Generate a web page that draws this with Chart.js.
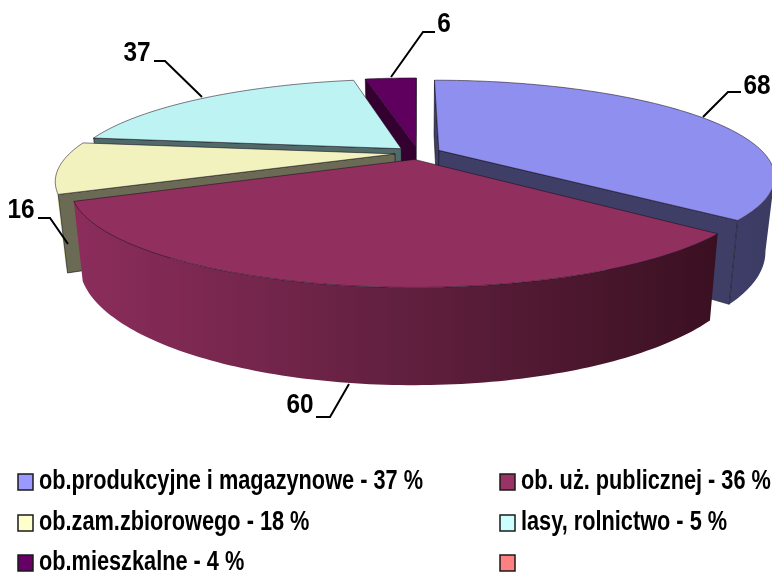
<!DOCTYPE html>
<html><head><meta charset="utf-8">
<style>html,body{margin:0;padding:0;background:#fff}canvas{display:block}</style>
<script src="https://cdn.jsdelivr.net/npm/chart.js@4"></script>
</head><body><canvas id="c" width="772" height="573"></canvas>
<script>
const categories = ["ob.produkcyjne i magazynowe - 37 %","ob. uż. publicznej - 36 %","ob.zam.zbiorowego - 18 %","lasy, rolnictwo - 5 %","ob.mieszkalne - 4 %",""];
const values = [68,60,16,37,6,0];
const valueLabels = ["68","60","16","37","6",""];
const swatchColors = ["#9999FF","#993366","#FFFFCC","#CCFFFF","#660066","#FF8080"];
const topColors = ["#8F8FF0","#912F5F","#F2F2BF","#BDF3F3","#5F005F","#FF8080"];
const radialColors = ["#3E3E66","#3E3E66","#6B6B55","#506A6A","#33002F","#804040"];
const outerStops = [["#3E3E69","#3A3A62"],["#8C2D5C","#62203F","#3A1021"],["#F3F3C2","#F3F3C2"],["#506A6A","#506A6A"],["#33002F","#33002F"],["#804040","#804040"]];
const drawOrder = [4,3,2,0,1];

// perspective of the pie plane
const CX=418, CY=153, A=325, B=90, K=0.265, DEPTH=70, SHRINK=0.974;
const leaders = {
  0:{pts:[[703,117],[728,92],[741,92]],tx:757,ty:86},
  1:{pts:[[349,384],[330,417],[316,417]],tx:300,ty:405},
  2:{pts:[[68,244],[50,218],[38,218]],tx:21,ty:210},
  3:{pts:[[202,97],[165,61],[154,61]],tx:137,ty:53},
  4:{pts:[[391,77],[423,32],[435,32]],tx:444,ty:24}
};
const legendCols=[18,500], legendRows=[482,523,563];
const FONT='bold 28px "Liberation Sans"', LEGEND_SX=0.776, VALUE_SX=0.87;

function proj(u,v){const w=1-K*v;return {x:CX+A*u/w,y:CY+B*v/w,w};}
function low(p){return {x:CX+(p.x-CX)*SHRINK,y:p.y+DEPTH/p.w};}
function poly(ctx,pts){ctx.beginPath();pts.forEach((p,i)=>i?ctx.lineTo(p.x,p.y):ctx.moveTo(p.x,p.y));ctx.closePath();}
function narrowText(ctx,str,x,y,align,sx){
  ctx.save();ctx.font=FONT;ctx.fillStyle='#000';ctx.textBaseline='middle';ctx.textAlign=align||'left';
  ctx.translate(x,y);ctx.scale(sx,1);ctx.fillText(str,0,0);ctx.restore();
}
const pie3d={id:'pie3d',
  beforeDatasetsDraw(chart){
    const ctx=chart.ctx, arcs=chart.getDatasetMeta(0).data;
    ctx.save();ctx.lineJoin='round';
    drawOrder.forEach(i=>{
      const arc=arcs[i]; if(!arc||arc.circumference===0)return;
      const R=arc.outerRadius, mid=(arc.startAngle+arc.endAngle)/2, off=(arc.options.offset||0)/2;
      const ox=Math.cos(mid)*off/R, oy=Math.sin(mid)*off/R;
      const apex=proj(ox,oy), rim=[];
      const n=Math.max(2,Math.ceil(arc.circumference*180/Math.PI));
      for(let s=0;s<=n;s++){const a=arc.startAngle+arc.circumference*s/n;rim.push(proj(Math.cos(a)+ox,Math.sin(a)+oy));}
      // outer wall
      const vis=[];
      for(let s=0;s<n;s++){ if(rim[s+1].x<rim[s].x){ if(!vis.length)vis.push(rim[s]); vis.push(rim[s+1]); } }
      if(vis.length>1){
        const wall=vis.concat(vis.map(low).reverse());
        const xs=wall.map(p=>p.x), g=ctx.createLinearGradient(Math.min(...xs),0,Math.max(...xs),0);
        const stops=outerStops[i]; stops.forEach((c,k)=>g.addColorStop(k/(stops.length-1),c));
        poly(ctx,wall);ctx.fillStyle=g;ctx.fill();
      }
      // radial walls
      const first=rim[0], last=rim[n];
      [[apex,first],[last,apex]].forEach(([p,q])=>{
        if(q.x<p.x){
          poly(ctx,[p,q,low(q),low(p)]);ctx.fillStyle=radialColors[i];ctx.fill();
          ctx.strokeStyle='rgba(10,10,20,.6)';ctx.lineWidth=1;ctx.stroke();
        }
      });
      // top face
      poly(ctx,[apex].concat(rim));ctx.fillStyle=topColors[i];ctx.fill();
      ctx.strokeStyle='rgba(25,15,30,.55)';ctx.lineWidth=1;ctx.stroke();
    });
    ctx.restore();
    return false;
  },
  afterDraw(chart){
    const ctx=chart.ctx;
    ctx.save();ctx.strokeStyle='#000';ctx.lineWidth=2;
    Object.keys(leaders).forEach(k=>{
      const L=leaders[k];ctx.beginPath();
      L.pts.forEach((p,i)=>i?ctx.lineTo(p[0],p[1]):ctx.moveTo(p[0],p[1]));ctx.stroke();
      narrowText(ctx,valueLabels[k],L.tx,L.ty,'center',VALUE_SX);
    });
    ctx.restore();
    categories.forEach((t,i)=>{
      const x=legendCols[i%2], y=legendRows[Math.floor(i/2)];
      ctx.save();ctx.fillStyle=swatchColors[i];ctx.strokeStyle='#1a1a1a';ctx.lineWidth=1.5;
      ctx.fillRect(x,y-8,15,16);ctx.strokeRect(x,y-8,15,16);ctx.restore();
      if(t)narrowText(ctx,t,x+21,y-1,'left',LEGEND_SX);
    });
  }
};
new Chart(document.getElementById('c'),{
  type:'pie',
  data:{labels:categories,datasets:[{data:values,backgroundColor:swatchColors,offset:38,borderWidth:0}]},
  options:{responsive:false,animation:false,plugins:{legend:{display:false},tooltip:{enabled:false}}},
  plugins:[pie3d]
});
</script></body></html>
